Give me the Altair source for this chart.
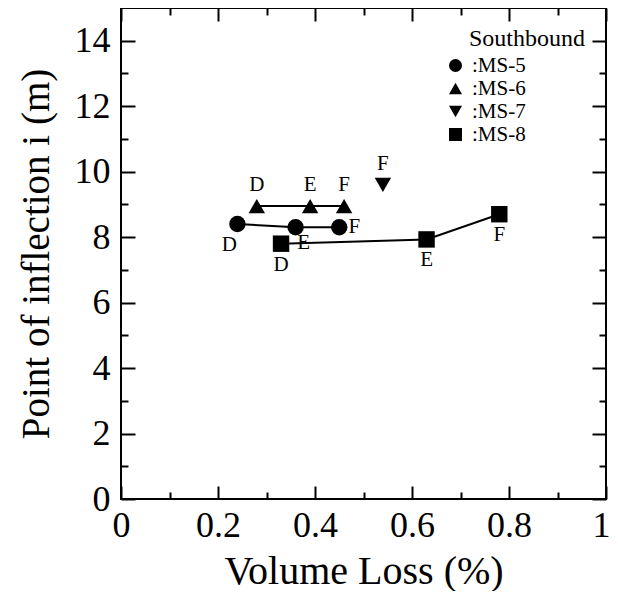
import altair as alt
import pandas as pd

# ---- data ----
series = ["MS-5", "MS-5", "MS-5", "MS-6", "MS-6", "MS-6", "MS-7", "MS-8", "MS-8", "MS-8"]
stage = ["D", "E", "F", "D", "E", "F", "F", "D", "E", "F"]
volume_loss = [0.24, 0.36, 0.45, 0.28, 0.39, 0.46, 0.54, 0.33, 0.63, 0.78]
inflection = [8.4, 8.3, 8.3, 8.95, 8.95, 8.95, 9.6, 7.8, 7.93, 8.7]
label_place = ["below-left", "below-right", "right", "above", "above", "above",
               "above", "below", "below", "below"]

series_names = ["MS-5", "MS-6", "MS-7", "MS-8"]
series_shapes = ["circle", "triangle-up", "triangle-down", "square"]
x_ticks = [0.0, 0.1, 0.2, 0.3, 0.4, 0.5, 0.6, 0.7, 0.8, 0.9, 1.0]
y_ticks = list(range(0, 15))

df = pd.DataFrame({"series": series, "stage": stage, "vl": volume_loss,
                   "inf": inflection, "place": label_place})

FONT = "Liberation Serif"
label_offsets = {"above": (0, -21), "below": (0, 21), "below-left": (-8, 21),
                 "below-right": (8, 16), "right": (15, 0)}

xscale = alt.Scale(domain=[0, 1], nice=False, zero=False)
yscale = alt.Scale(domain=[0, 15], nice=False, zero=False)

x_major = "round(datum.value * 10) % 2 === 0"
y_major = "datum.value % 2 === 0"
x_last = "datum.value >= 1"

x_axis_main = alt.Axis(
    values=x_ticks, format="~g", labelExpr=f"{x_major} ? datum.label : ''",
    tickSize={"condition": {"test": x_major, "value": -13}, "value": -7},
    tickWidth=2, tickColor="black", domain=False, grid=False,
    labelFont=FONT, labelFontSize=36, labelColor="black", labelPadding=22,
    labelAlign={"condition": {"test": x_last, "value": "right"}, "value": "center"},
    labelOffset={"condition": {"test": x_last, "value": 4}, "value": 0},
    labelFlush=False, labelOverlap=False,
    title="Volume Loss (%)", titleFont=FONT, titleFontSize=40,
    titleFontWeight="normal", titleColor="black", titlePadding=2)
y_axis_main = alt.Axis(
    values=y_ticks, labelExpr=f"{y_major} ? datum.label : ''",
    tickSize={"condition": {"test": y_major, "value": -14}, "value": -7},
    tickWidth=2, tickColor="black", domain=False, grid=False,
    labelFont=FONT, labelFontSize=36, labelColor="black", labelPadding=25,
    labelFlush=False, labelOverlap=False,
    title="Point of inflection i (m)", titleFont=FONT, titleFontSize=39,
    titleFontWeight="normal", titleColor="black", titlePadding=18)
x_axis_top = alt.Axis(
    orient="top", values=x_ticks, labels=False, title=None, domain=False, grid=False,
    tickSize={"condition": {"test": x_major, "value": -13}, "value": -7},
    tickWidth=2, tickColor="black")
y_axis_right = alt.Axis(
    orient="right", values=y_ticks, labels=False, title=None, domain=False, grid=False,
    tickSize={"condition": {"test": y_major, "value": -14}, "value": -7},
    tickWidth=2, tickColor="black")

base = alt.Chart(df)

lines = base.mark_line(color="black", strokeWidth=2).encode(
    x=alt.X("vl:Q", scale=xscale, axis=None),
    y=alt.Y("inf:Q", scale=yscale, axis=None),
    detail="series:N",
)

points = base.mark_point(filled=True, opacity=1, color="black", size=270).encode(
    x=alt.X("vl:Q", scale=xscale, axis=x_axis_main),
    y=alt.Y("inf:Q", scale=yscale, axis=y_axis_main),
    shape=alt.Shape(
        "series:N",
        scale=alt.Scale(domain=series_names, range=series_shapes),
        legend=alt.Legend(
            title="\u200b\u00a0\u00a0\u00a0\u00a0Southbound",
            orient="none", legendX=324, legendY=19, padding=0,
            titleFont=FONT, titleFontSize=24, titleFontWeight="normal",
            titleColor="black", titlePadding=4,
            labelFont=FONT, labelFontSize=21, labelColor="black",
            labelExpr="':' + datum.label", labelOffset=6,
            symbolSize=170, symbolFillColor="black", symbolStrokeWidth=0,
            rowPadding=1,
        ),
    ),
)

frame_ticks = base.mark_point(opacity=0).encode(
    x=alt.X("vl:Q", scale=xscale, axis=x_axis_top),
    y=alt.Y("inf:Q", scale=yscale, axis=y_axis_right),
)

label_layers = []
for place, (dx, dy) in label_offsets.items():
    label_layers.append(
        base.transform_filter(alt.datum.place == place)
        .mark_text(font=FONT, fontSize=21, color="black", dx=dx, dy=dy,
                   align="center", baseline="middle")
        .encode(
            x=alt.X("vl:Q", scale=xscale, axis=None),
            y=alt.Y("inf:Q", scale=yscale, axis=None),
            text="stage:N",
        )
    )

chart = (
    alt.layer(points, lines, *label_layers, frame_ticks)
    .resolve_axis(x="independent", y="independent")
    .properties(
        width=485, height=491,
        autosize=alt.AutoSizeParams(type="none"),
        padding={"left": 113, "top": 0, "right": 4, "bottom": 92},
        background="white",
    )
    .configure_view(stroke="black", strokeWidth=2)
)

chart.save("out.html", embed_options={"renderer": "svg", "actions": False})
